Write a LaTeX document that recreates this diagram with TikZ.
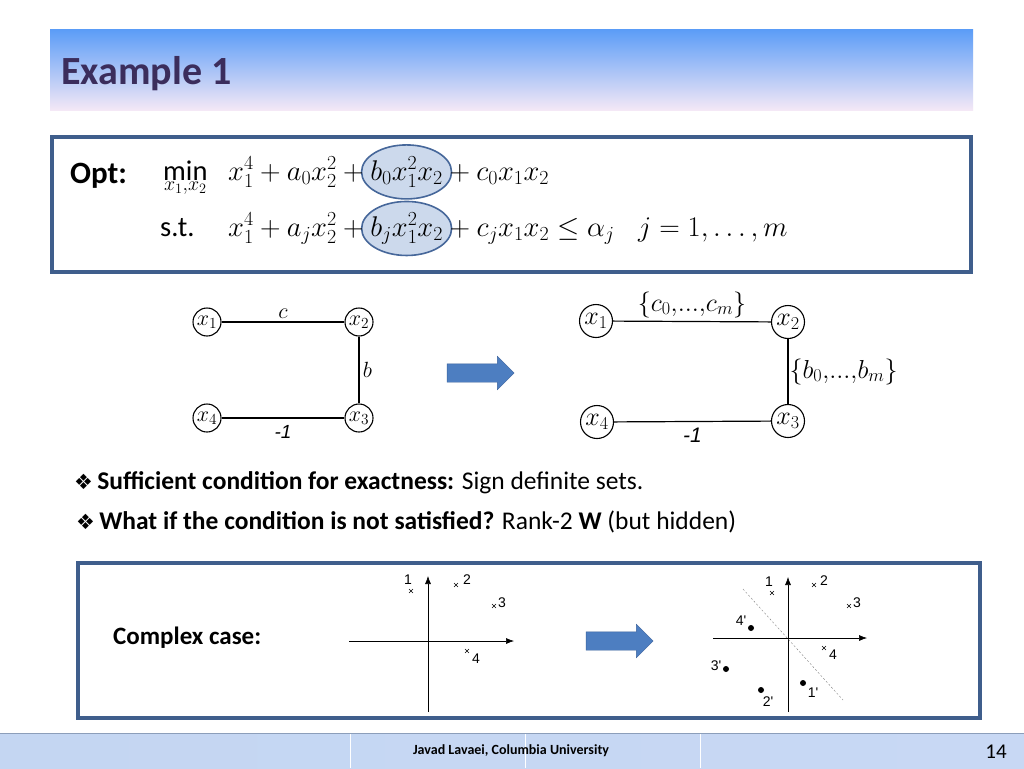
\documentclass[tikz,border=0pt]{standalone}
\usepackage{fix-cm}
\usepackage{fontspec}
\setmainfont{Carlito}
\newfontfamily\dingfont{DejaVu Sans}
\newfontfamily\plotfont{Liberation Sans}
\usetikzlibrary{arrows.meta,positioning,shapes.arrows,shapes.misc,backgrounds}
\definecolor{boxline}{HTML}{3F5E8C}
\definecolor{titleink}{HTML}{3B2D5C}
\definecolor{hlfill}{HTML}{CCD9EC}
\definecolor{hlline}{HTML}{46679A}
\definecolor{arrowfill}{HTML}{4D7EC1}
\definecolor{arrowline}{HTML}{3A629C}

\begin{document}
\begin{tikzpicture}[x=1pt,y=-1pt,
  panel/.style={draw=boxline,line width=3.5pt,fill=white},
  txt/.style={anchor=base west,inner sep=0pt},
  vs/.style={draw,circle,line width=1.1pt,inner sep=0pt,minimum size=28pt,
    font=\fontsize{22}{22}\selectfont},
  vb/.style={draw,circle,line width=1.1pt,inner sep=0pt,minimum size=33pt,
    font=\fontsize{26}{26}\selectfont},
  e/.style={draw,line width=1.2pt},
  hl/.style={draw=hlline,line width=1.6pt,fill=hlfill},
  go/.style={single arrow,draw=arrowline,fill=arrowfill,inner sep=9pt,
    minimum height=67pt,single arrow head extend=7.5pt},
  ax/.style={-{Latex[length=8pt,width=6pt]},semithick},
  mk/.style={cross out,draw,inner sep=0pt,minimum size=3.5pt,thin},
  pt/.style={circle,fill,inner sep=0pt,minimum size=6pt},
  lb/.style={inner sep=1pt,font=\plotfont\fontsize{14}{14}\selectfont}
]
\useasboundingbox (0,0) rectangle (1024,768);

% panels
\begin{scope}[on background layer]
\fill[white] (0,0) rectangle (1024,768);
\draw[panel] (52,137) rectangle (971,272);
\draw[panel] (78,563) rectangle (980,718);
\end{scope}

% title bar
\shade[top color={rgb,255:red,92;green,157;blue,247},
  middle color={rgb,255:red,140;green,190;blue,246},
  bottom color={rgb,255:red,244;green,232;blue,246}] (50,30) rectangle (973,110);
\node[txt,font=\fontsize{40}{40}\selectfont\bfseries,text=titleink] (title)
  at (61,84) {Example 1};

% problem
\node[txt,font=\fontsize{31}{31}\selectfont\bfseries] (opt) at (70,183) {Opt:};
\begin{scope}[font=\fontsize{28.5}{28.5}\selectfont]
\node[txt] (mn) at (163,180) {$\displaystyle\min_{x_1,x_2}$};
\node[txt] (o1) at (228,180) {$x_1^4+a_0x_2^2+{}$};
\node[txt] (o2) at (o1.base east) {$b_0x_1^2x_2$};
\node[txt] (o3) at (o2.base east) {${}+c_0x_1x_2$};
\node[txt] (st) at (160,236) {s.t.};
\node[txt] (p1) at (228,236) {$x_1^4+a_jx_2^2+{}$};
\node[txt] (p2) at (p1.base east) {$b_jx_1^2x_2$};
\node[txt] (p3) at (p2.base east) {${}+c_jx_1x_2\leq\alpha_j$};
\node[txt] (p4) at (638,236) {$j=1,\ldots,m$};
\end{scope}
\begin{scope}[on background layer]
\draw[hl] (o2.center) ellipse [x radius=45, y radius=27];
\draw[hl] (p2.center) ellipse [x radius=45, y radius=27];
\end{scope}

% graph before
\node[vs] (a1) at (207,322) {$x_1$};
\node[vs] (a2) at (359,322) {$x_2$};
\node[vs] (a3) at (359,418) {$x_3$};
\node[vs] (a4) at (207,418) {$x_4$};
\draw[e] (a1) -- node[above,font=\fontsize{22}{22}\selectfont] {$c$} (a2);
\draw[e] (a2) -- node[right,font=\fontsize{22}{22}\selectfont] {$b$} (a3);
\draw[e] (a4) -- node[below=3pt,font=\plotfont\fontsize{19}{19}\selectfont\itshape] {-1} (a3);

\node[go] (go1) at (476,373) {};

% graph after
\node[vb] (b1) at (596,321) {$x_1$};
\node[vb] (b2) at (788,322) {$x_2$};
\node[vb] (b3) at (788,421) {$x_3$};
\node[vb] (b4) at (597,422) {$x_4$};
\draw[e] (b1) -- node[above,font=\fontsize{26}{26}\selectfont] {$\{c_0{,}...{,}c_m\}$} (b2);
\draw[e] (b2) -- node[right,inner sep=1pt,font=\fontsize{26}{26}\selectfont] {$\{b_0{,}...{,}b_m\}$} (b3);
\draw[e] (b4) -- node[below=3pt,font=\plotfont\fontsize{21}{21}\selectfont\itshape] {-1} (b3);

% remarks
\node[txt,font=\fontsize{25.5}{25.5}\selectfont] (r1) at (74,489)
  {{\dingfont\fontsize{21}{21}\selectfont ❖}\,\textbf{Sufficient condition for exactness:} Sign definite sets.};
\node[txt,font=\fontsize{25.5}{25.5}\selectfont] (r2) at (76,529)
  {{\dingfont\fontsize{21}{21}\selectfont ❖}\,\textbf{What if the condition is not satisfied?} Rank-2 \textbf{W} (but hidden)};

% complex case
\node[txt,font=\fontsize{25}{25}\selectfont\bfseries] (cc) at (113,644) {Complex case:};

\coordinate (h1a) at (349,641);
\coordinate (h1b) at (514,641);
\coordinate (v1a) at (428,712);
\coordinate (v1b) at (428,576);
\draw[ax] (h1a) -- (h1b);
\draw[ax] (v1a) -- (v1b);
\node[mk] (m1) at (411,591) {};
\node[lb] (n1) at (408,580) {1};
\node[mk] (m2) at (456,585) {};
\node[lb] (n2) at (467,580) {2};
\node[mk] (m3) at (494,606) {};
\node[lb] (n3) at (502,603) {3};
\node[mk] (m4) at (467,651) {};
\node[lb] (n4) at (476,659) {4};

\node[go] (go2) at (615,641) {};

\coordinate (h2a) at (713,638);
\coordinate (h2b) at (867,638);
\coordinate (v2a) at (788,712);
\coordinate (v2b) at (788,577);
\draw[ax] (h2a) -- (h2b);
\draw[ax] (v2a) -- (v2b);
\coordinate (d1) at (743,589);
\coordinate (d2) at (843,700);
\draw[gray,dash pattern=on 2pt off 2pt] (d1) -- (d2);
\node[mk] (q1) at (772,593) {};
\node[lb] (l1) at (769,582) {1};
\node[mk] (q2) at (814,585) {};
\node[lb] (l2) at (824,581) {2};
\node[mk] (q3) at (849,606) {};
\node[lb] (l3) at (857,603) {3};
\node[mk] (q4) at (824,648) {};
\node[lb] (l4) at (833,655) {4};
\node[pt] (s4) at (751,628) {};
\node[lb] (k4) at (741,621) {4'};
\node[pt] (s3) at (726,669) {};
\node[lb] (k3) at (716,666) {3'};
\node[pt] (s2) at (761,690) {};
\node[lb] (k2) at (768,702) {2'};
\node[pt] (s1) at (803,683) {};
\node[lb] (k1) at (813,693) {1'};

% footer
\shade[left color={rgb,255:red,196;green,214;blue,242},
  middle color={rgb,255:red,222;green,210;blue,240},
  right color={rgb,255:red,200;green,216;blue,244}] (0,733) rectangle (1024,768);
\draw[boxline!60,line width=1pt] (0,733.5) -- (1024,733.5);
\foreach \sx in {350,525,700} \draw[white,line width=0.8pt] (\sx,734) -- (\sx,768);
\node[font=\fontsize{14}{14}\selectfont\bfseries] (foot) at (511,751) {Javad Lavaei, Columbia University};
\node[font=\fontsize{21}{21}\selectfont] (page) at (996,752) {14};
\end{tikzpicture}
\end{document}
